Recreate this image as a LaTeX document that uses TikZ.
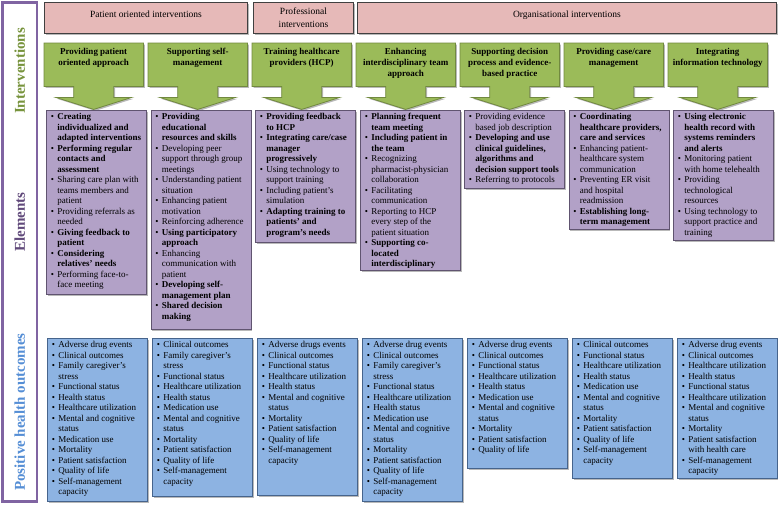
\documentclass[tikz,border=0pt]{standalone}
\usepackage{fontspec}
\setmainfont{Liberation Serif}
\usepackage{tikz}
\usetikzlibrary{
  calc,
  shadows,
  backgrounds,
  }

\definecolor{pinkbox}{RGB}{230,185,184}
\definecolor{greenbox}{RGB}{155,187,89}
\definecolor{greenline}{RGB}{113,137,63}
\definecolor{purplebox}{RGB}{178,161,199}
\definecolor{purpleline}{RGB}{96,84,112}
\definecolor{bluebox}{RGB}{141,179,226}
\definecolor{blueline}{RGB}{70,100,140}
\definecolor{framepurple}{RGB}{128,100,162}
\definecolor{labelgreen}{RGB}{119,147,60}
\definecolor{labelpurple}{RGB}{96,73,122}
\definecolor{labelblue}{RGB}{85,142,213}

\newcommand{\itm}{\par\hangindent=8pt\hangafter=1\noindent\makebox[8pt][l]{\hspace{1.5pt}\textbullet}}
\newcommand{\itb}[1]{\itm\textbf{#1}}
\newcommand{\cell}[2]{\begin{minipage}[t][#1][t]{94pt}\fontsize{9}{10.5}\selectfont\raggedright #2\end{minipage}}
\newcommand{\hd}[1]{\begin{minipage}[t][37pt][t]{93pt}\vspace*{2pt}\centering\fontsize{9}{11}\selectfont\bfseries #1\end{minipage}}

\begin{document}
\begin{tikzpicture}[x=1pt, y=-1pt,
    every node/.style={anchor=north west, inner sep=3pt},
    boxshadow/.style={drop shadow={shadow xshift=1.5pt, shadow yshift=-1.5pt, fill=black!55, opacity=.5}},
    category/.style={draw=black!75, line width=.9pt, fill=pinkbox, minimum height=31pt, align=center, font=\fontsize{9.5}{13}\selectfont, boxshadow},
    greenarrow/.style={draw=greenline, line width=.8pt, fill=greenbox, boxshadow},
    elem/.style={draw=purpleline, line width=.7pt, fill=purplebox, boxshadow},
    outc/.style={draw=blueline, line width=.7pt, fill=bluebox, boxshadow},
    sidelabel/.style={rotate=90, anchor=center, font=\fontsize{15}{15}\selectfont\bfseries},
  ]
\useasboundingbox (0,0) rectangle (778,504);

\draw[framepurple, line width=2.5pt] (2.5,2.5) rectangle (37,501.5);
\node[sidelabel, text=labelgreen] (lint) at (19.75,71) {Interventions};
\node[sidelabel, text=labelpurple] (lelem) at (19.75,222) {Elements};
\node[sidelabel, text=labelblue] (lout) at (19.75,412) {Positive health outcomes};

\node[category, minimum width=203pt, text depth=8pt] (pat) at (44,2) {Patient oriented interventions};
\node[category, minimum width=100pt] (prof) at (253,2) {Professional\\interventions};
\node[category, minimum width=419pt, text depth=8pt] (org) at (357,2) {Organisational interventions};

\foreach \i/\t in {1/{Providing patient\\oriented approach},
                   2/{Supporting self-\\management},
                   3/{Training healthcare\\providers (HCP)},
                   4/{Enhancing\\interdisciplinary team\\approach},
                   5/{Supporting decision\\process and evidence-\\based practice},
                   6/{Providing case/care\\management},
                   7/{Integrating\\information technology}}
  \node (g\i) at ({44+104*(\i-1)},43) {\hd{\t}};

\begin{scope}[on background layer]
  \foreach \i in {1,...,7}
    \draw[greenarrow] (g\i.north west) -- (g\i.north east) -- (g\i.south east)
      -- ($(g\i.south)+(20,0)$) -- ($(g\i.south)+(20,11)$) -- ($(g\i.south)+(38,11)$)
      -- ($(g\i.south)+(0,23)$) -- ($(g\i.south)+(-38,11)$) -- ($(g\i.south)+(-20,11)$)
      -- ($(g\i.south)+(-20,0)$) -- (g\i.south west) -- cycle;
\end{scope}

\node[elem] (e1) at (46,110) {\cell{178pt}{%
  \itb{Creating\newline individualized and\newline adapted interventions}
  \itb{Performing regular\newline contacts and\newline assessment}
  \itm Sharing care plan with\newline teams members and\newline patient
  \itm Providing referrals as\newline needed
  \itb{Giving feedback to\newline patient}
  \itb{Considering\newline relatives' needs}
  \itm Performing face-to-\newline face meeting}};
\node[elem] (e2) at (150.5,110) {\cell{213pt}{%
  \itb{Providing\newline educational\newline resources and skills}
  \itm Developing peer\newline support through group\newline meetings
  \itm Understanding patient\newline situation
  \itm Enhancing patient\newline motivation
  \itm Reinforcing adherence
  \itb{Using participatory\newline approach}
  \itm Enhancing\newline communication with\newline patient
  \itb{Developing self-\newline management plan}
  \itb{Shared decision\newline making}}};
\node[elem] (e3) at (255,110) {\cell{126pt}{%
  \itb{Providing feedback\newline to HCP}
  \itb{Integrating care/case\newline manager\newline progressively}
  \itm Using technology to\newline support training
  \itm Including patient's\newline simulation
  \itb{Adapting training to\newline patients' and\newline program's needs}}};
\node[elem] (e4) at (360,110) {\cell{154pt}{%
  \itb{Planning frequent\newline team meeting}
  \itb{Including patient in\newline the team}
  \itm Recognizing\newline pharmacist-physician\newline collaboration
  \itm Facilitating\newline communication
  \itm Reporting to HCP\newline every step of the\newline patient situation
  \itb{Supporting co-\newline located\newline interdisciplinary}}};
\node[elem] (e5) at (464,110) {\cell{72pt}{%
  \itm Providing evidence\newline based job description
  \itb{Developing and use\newline clinical guidelines,\newline algorithms and\newline decision support tools}
  \itm Referring to protocols}};
\node[elem] (e6) at (568.5,110) {\cell{113pt}{%
  \itb{Coordinating\newline healthcare providers,\newline care and services}
  \itm Enhancing patient-\newline healthcare system\newline communication
  \itm Preventing ER visit\newline and hospital\newline readmission
  \itb{Establishing long-\newline term management}}};
\node[elem] (e7) at (673,110) {\cell{124pt}{%
  \itb{Using electronic\newline health record with\newline systems reminders\newline and alerts}
  \itm Monitoring patient\newline with home telehealth
  \itm Providing\newline technological\newline resources
  \itm Using technology to\newline support practice and\newline training}};

\node[outc] (o1) at (47,338) {\cell{157pt}{%
  \itm Adverse drug events
  \itm Clinical outcomes
  \itm Family caregiver's\newline stress
  \itm Functional status
  \itm Health status
  \itm Healthcare utilization
  \itm Mental and cognitive\newline status
  \itm Medication use
  \itm Mortality
  \itm Patient satisfaction
  \itm Quality of life
  \itm Self-management\newline capacity}};
\node[outc] (o2) at (152,338) {\cell{152pt}{%
  \itm Clinical outcomes
  \itm Family caregiver's\newline stress
  \itm Functional status
  \itm Healthcare utilization
  \itm Health status
  \itm Medication use
  \itm Mental and cognitive\newline status
  \itm Mortality
  \itm Patient satisfaction
  \itm Quality of life
  \itm Self-management\newline capacity}};
\node[outc] (o3) at (257,338) {\cell{151pt}{%
  \itm Adverse drugs events
  \itm Clinical outcomes
  \itm Functional status
  \itm Healthcare utilization
  \itm Health status
  \itm Mental and cognitive\newline status
  \itm Mortality
  \itm Patient satisfaction
  \itm Quality of life
  \itm Self-management\newline capacity}};
\node[outc] (o4) at (362,338) {\cell{157pt}{%
  \itm Adverse drug events
  \itm Clinical outcomes
  \itm Family caregiver's\newline stress
  \itm Functional status
  \itm Healthcare utilization
  \itm Health status
  \itm Medication use
  \itm Mental and cognitive\newline status
  \itm Mortality
  \itm Patient satisfaction
  \itm Quality of life
  \itm Self-management\newline capacity}};
\node[outc] (o5) at (467,338) {\cell{124pt}{%
  \itm Adverse drug events
  \itm Clinical outcomes
  \itm Functional status
  \itm Healthcare utilization
  \itm Health status
  \itm Medication use
  \itm Mental and cognitive\newline status
  \itm Mortality
  \itm Patient satisfaction
  \itm Quality of life}};
\node[outc] (o6) at (572,338) {\cell{134pt}{%
  \itm Clinical outcomes
  \itm Functional status
  \itm Healthcare utilization
  \itm Health status
  \itm Medication use
  \itm Mental and cognitive\newline status
  \itm Mortality
  \itm Patient satisfaction
  \itm Quality of life
  \itm Self-management\newline capacity}};
\node[outc] (o7) at (677,338) {\cell{134pt}{%
  \itm Adverse drug events
  \itm Clinical outcomes
  \itm Healthcare utilization
  \itm Health status
  \itm Functional status
  \itm Healthcare utilization
  \itm Mental and cognitive\newline status
  \itm Mortality
  \itm Patient satisfaction\newline with health care
  \itm Self-management\newline capacity}};
\end{tikzpicture}
\end{document}
